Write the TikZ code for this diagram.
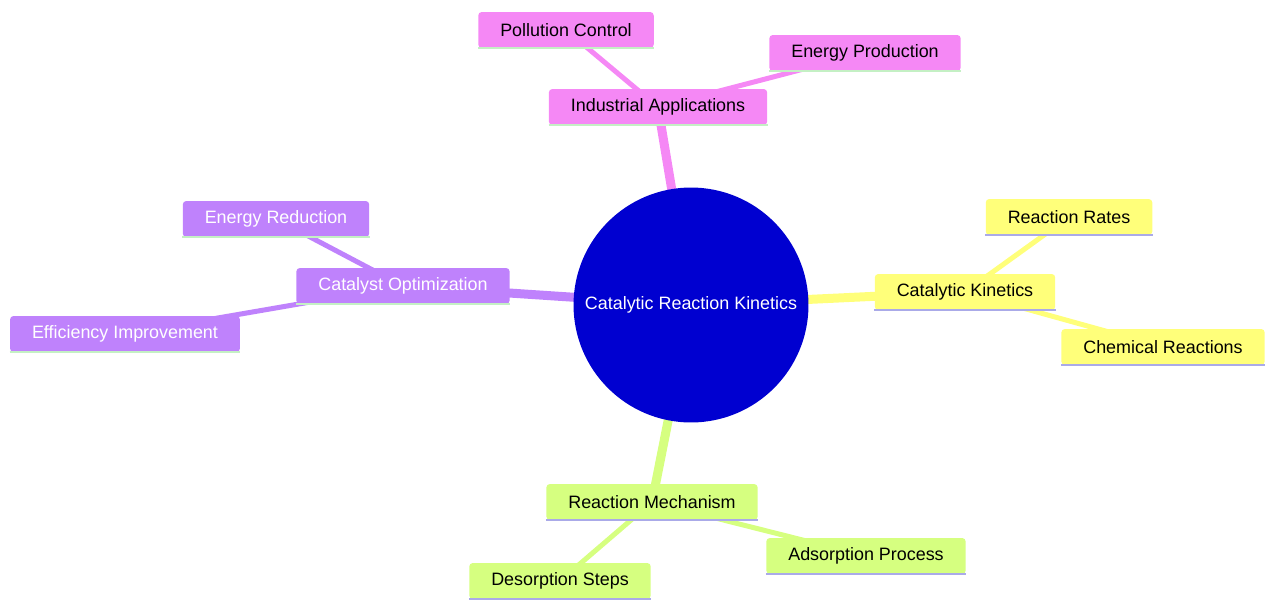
\documentclass[tikz,border=0pt]{standalone}
\usepackage{fontspec}
\setmainfont{Liberation Sans}
\usetikzlibrary{positioning,backgrounds}

\definecolor{rootblue}{RGB}{0,0,208}
\definecolor{pinksec}{RGB}{245,136,245}
\definecolor{purplesec}{RGB}{191,130,252}
\definecolor{yellowsec}{RGB}{255,255,122}
\definecolor{limesec}{RGB}{214,255,128}
\definecolor{greenline}{RGB}{196,240,196}
\definecolor{lavline}{RGB}{170,170,232}

\begin{document}
\begin{tikzpicture}[x=0.02cm, y=-0.02cm,
      every node/.style = {font=\fontsize{10.2}{12}\selectfont},
      root/.style = {circle, fill=rootblue, text=white, minimum size=4.7cm,
         inner sep=0pt},
      topic/.style = {rectangle, rounded corners=2pt, minimum height=0.72cm,
         inner xsep=0.44cm, inner ysep=0pt},
      uline/.style = {append after command={(\tikzlastnode.south west)
         edge[draw=#1, line width=1.3pt] (\tikzlastnode.south east)}},
      pinkbox/.style = {topic, fill=pinksec, uline=greenline},
      purplebox/.style = {topic, fill=purplesec, text=white, uline=greenline},
      yellowbox/.style = {topic, fill=yellowsec, uline=lavline},
      limebox/.style = {topic, fill=limesec, uline=lavline},
      trunk/.style = {line width=0.18cm},
      twig/.style = {line width=0.1cm}]

   \useasboundingbox (0,0) rectangle (1266,601);

   % centre
   \node[root] (crk) at (691,305) {Catalytic Reaction Kinetics};

   % industrial applications
   \node[pinkbox] (ind)  at (658,107) {Industrial Applications};
   \node[pinkbox] (poll) at (566,30)  {Pollution Control};
   \node[pinkbox] (enp)  at (865,53)  {Energy Production};

   % catalyst optimization
   \node[purplebox] (opt) at (403,286) {Catalyst Optimization};
   \node[purplebox] (enr) at (276,219) {Energy Reduction};
   \node[purplebox] (eff) at (125,334) {Efficiency Improvement};

   % catalytic kinetics
   \node[yellowbox] (kin)  at (965,292)  {Catalytic Kinetics};
   \node[yellowbox] (rate) at (1069,217) {Reaction Rates};
   \node[yellowbox] (chem) at (1163,347) {Chemical Reactions};

   % reaction mechanism
   \node[limebox] (mech) at (652,502) {Reaction Mechanism};
   \node[limebox] (ads)  at (866,556) {Adsorption Process};
   \node[limebox] (des)  at (560,581) {Desorption Steps};

   \begin{scope}[on background layer]
      \draw[trunk, pinksec]   (crk.center) -- (ind.center);
      \draw[twig,  pinksec]   (ind.center) -- (poll.center);
      \draw[twig,  pinksec]   (ind.center) -- (enp.center);

      \draw[trunk, purplesec] (crk.center) -- (opt.center);
      \draw[twig,  purplesec] (opt.center) -- (enr.center);
      \draw[twig,  purplesec] (opt.center) -- (eff.center);

      \draw[trunk, yellowsec] (crk.center) -- (kin.center);
      \draw[twig,  yellowsec] (kin.center) -- (rate.center);
      \draw[twig,  yellowsec] (kin.center) -- (chem.center);

      \draw[trunk, limesec]   (crk.center) -- (mech.center);
      \draw[twig,  limesec]   (mech.center) -- (ads.center);
      \draw[twig,  limesec]   (mech.center) -- (des.center);
   \end{scope}
\end{tikzpicture}
\end{document}
